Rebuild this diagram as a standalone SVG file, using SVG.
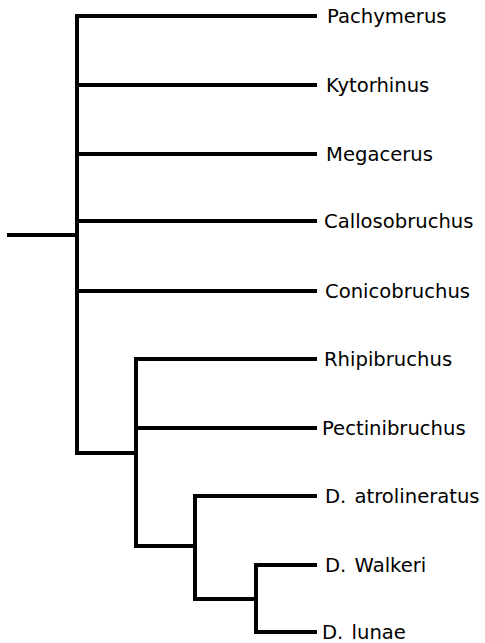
<svg xmlns="http://www.w3.org/2000/svg" width="485" height="643" viewBox="0 0 485 643">
<style>
.e{stroke:#000;stroke-width:4;fill:none;stroke-linecap:square}
text{font-family:"DejaVu Sans",sans-serif;font-size:19.6px;fill:#000;word-spacing:2px}
</style>
<rect width="485" height="643" fill="#fff"/>
<g id="connectors">
<path class="e" d="M9 235H77M77 16V453M77 16H315M77 85H315M77 154H315M77 221H315M77 291H315M77 453H136M136 359V546M136 359H315M136 428H315M136 546H195M195 496V599M195 496H315M195 599H256M256 565V632M256 565H315M256 632H315"/>
</g>
<g id="n-pachymerus"><text x="327" y="23">Pachymerus</text></g>
<g id="n-kytorhinus"><text x="326" y="92">Kytorhinus</text></g>
<g id="n-megacerus"><text x="326" y="161">Megacerus</text></g>
<g id="n-callosobruchus"><text x="324" y="228">Callosobruchus</text></g>
<g id="n-conicobruchus"><text x="325" y="298">Conicobruchus</text></g>
<g id="n-rhipibruchus"><text x="324" y="366">Rhipibruchus</text></g>
<g id="n-pectinibruchus"><text x="322" y="435">Pectinibruchus</text></g>
<g id="n-atrolineratus"><text x="325" y="503">D. atrolineratus</text></g>
<g id="n-walkeri"><text x="325" y="572">D. Walkeri</text></g>
<g id="n-lunae"><text x="322" y="639">D. lunae</text></g>
</svg>
